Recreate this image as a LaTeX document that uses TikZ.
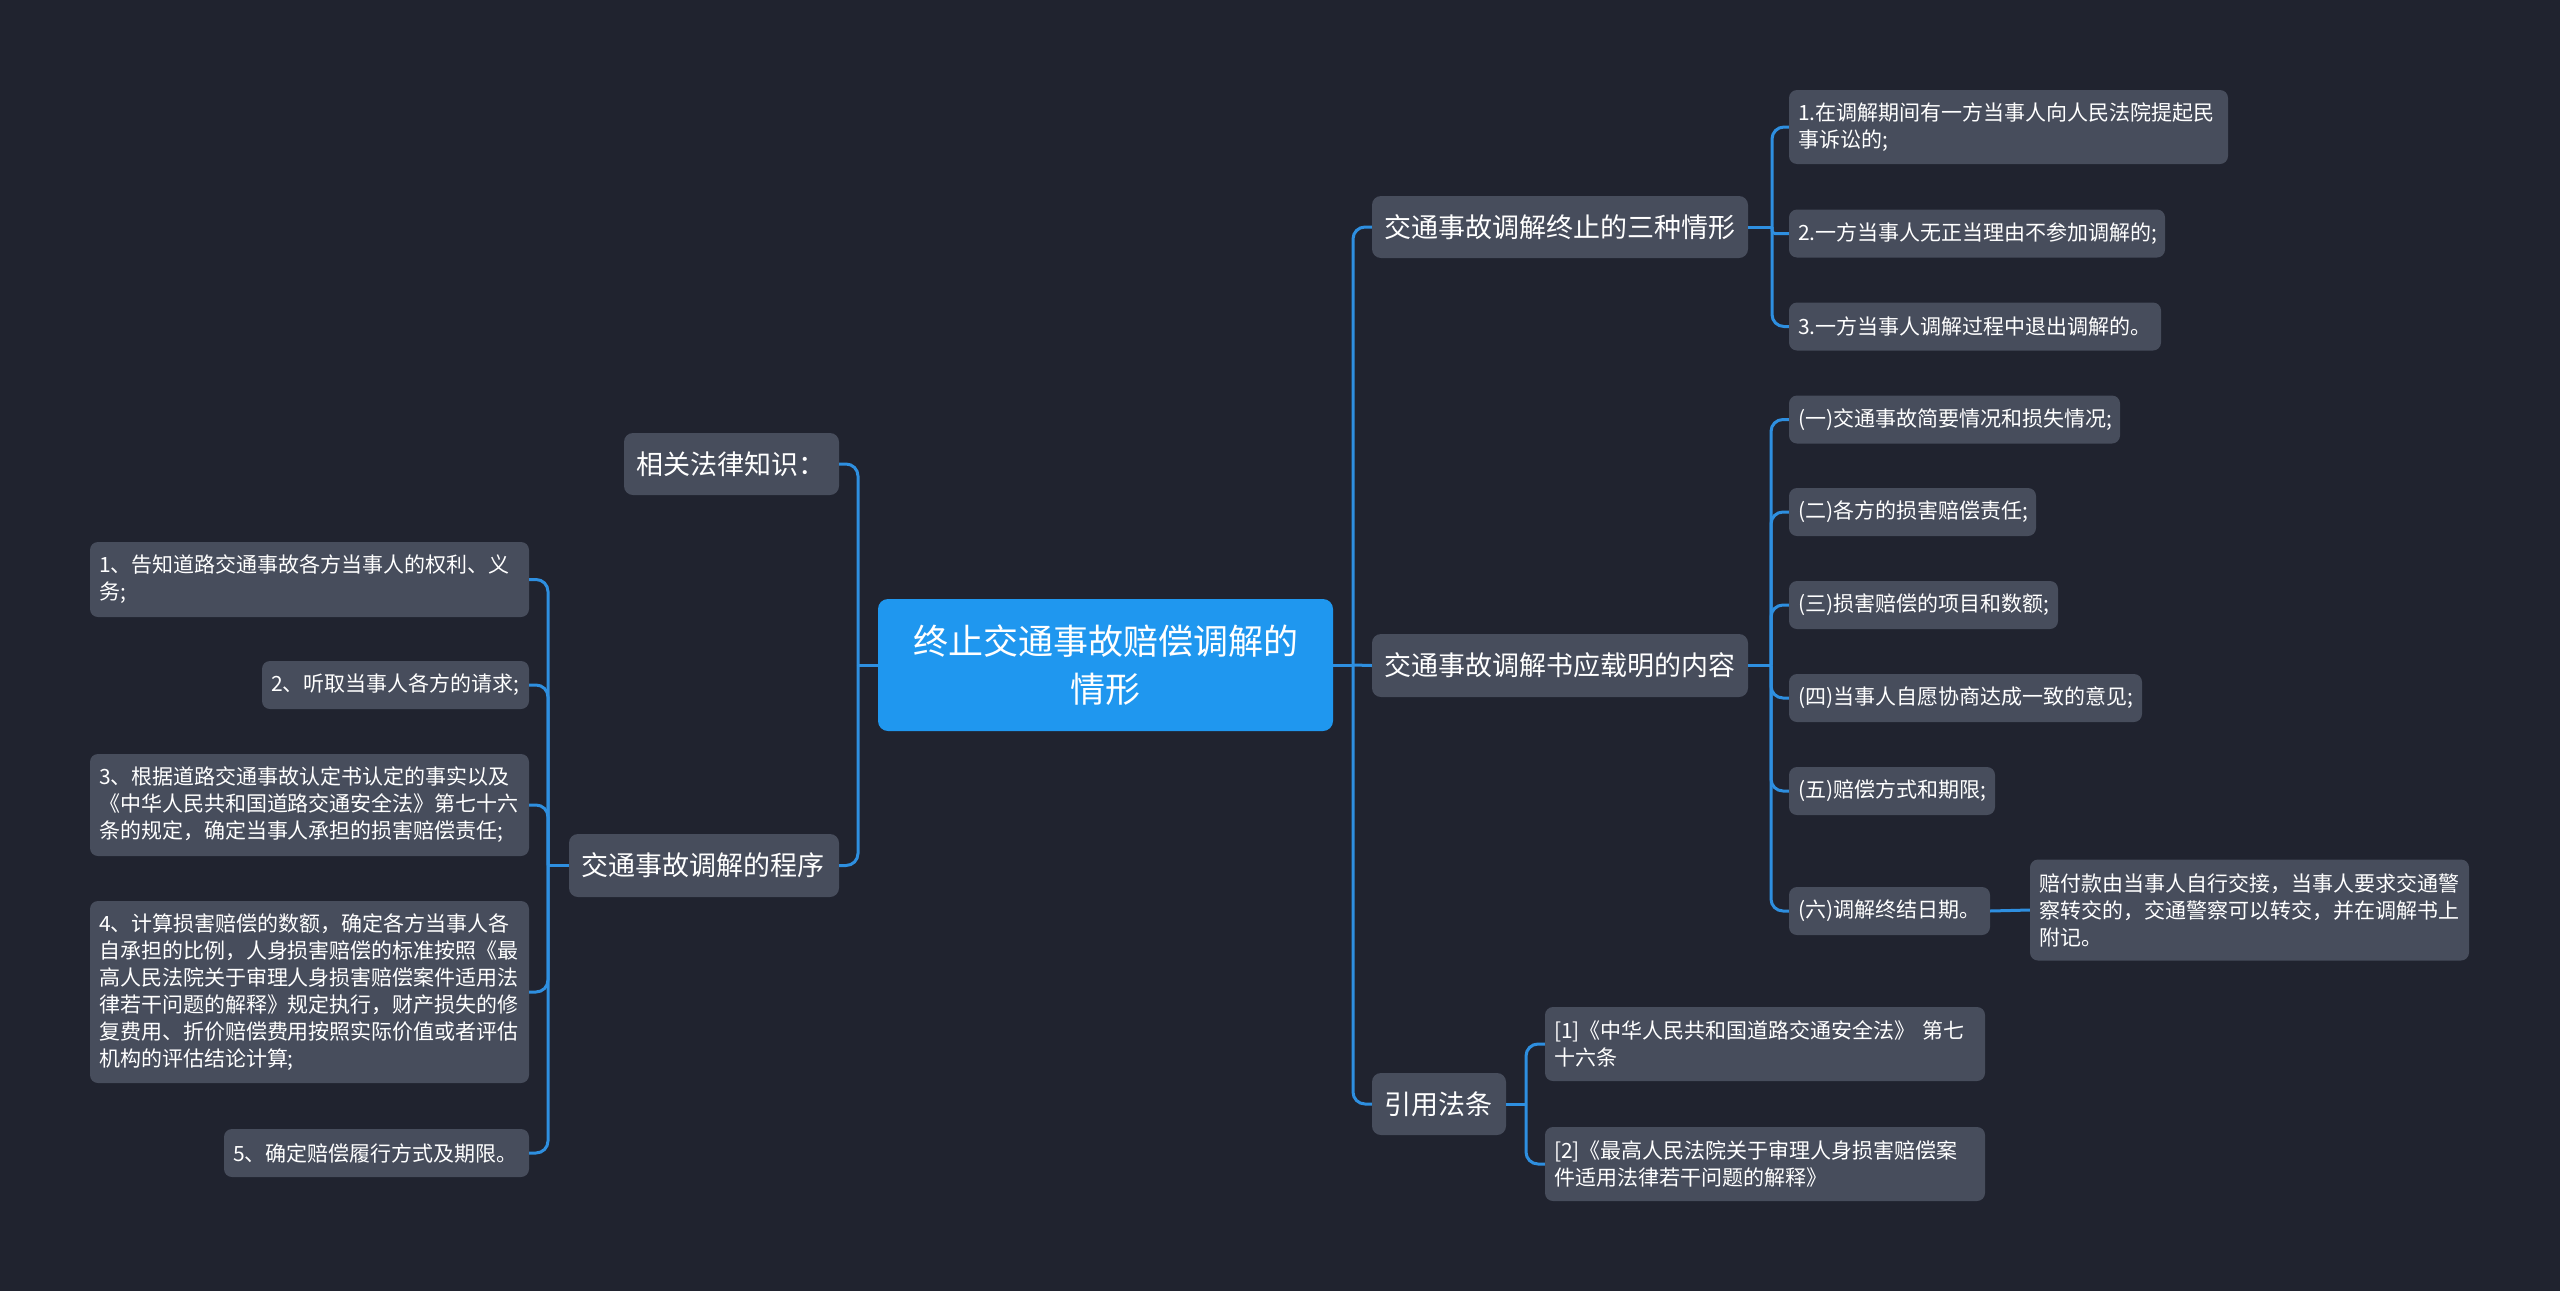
\documentclass[tikz,border=0pt]{standalone}
\usepackage{fontspec}
\setmainfont{Noto Sans CJK SC}
\definecolor{bgdark}{HTML}{20232F}
\definecolor{nodefill}{HTML}{474D5C}
\definecolor{rootblue}{HTML}{1F97EF}
\definecolor{linkblue}{HTML}{2E8FE0}
\begin{document}
\begin{tikzpicture}[x=1pt,y=-1pt,
  box/.style={rectangle, rounded corners=8pt, fill=nodefill, text=white, inner ysep=0pt},
  leaf/.style={box, font=\fontsize{21}{27}\selectfont, inner xsep=9pt, align=left},
  topic/.style={box, font=\fontsize{27}{34}\selectfont, inner xsep=12pt, align=left, rounded corners=9pt},
  root/.style={rectangle, rounded corners=10pt, fill=rootblue, text=white, font=\fontsize{35}{48}\selectfont, align=center, inner xsep=10pt, inner ysep=0pt},
  conn/.style={draw=linkblue, line width=3pt, rounded corners=12pt},
]
\fill[bgdark] (0,0) rectangle (2560,1291);
\useasboundingbox (0,0) rectangle (2560,1291);

% root
\node[root, text width=435pt, minimum height=132pt] (root) at (1105.5,665) {终止交通事故赔偿调解的\\情形};

% level 1
\node[topic, text width=191pt, minimum height=62pt] (rel) at (731.5,464) {相关法律知识：};
\node[topic, text width=246pt, minimum height=63pt] (proc) at (704,865.5) {交通事故调解的程序};
\node[topic, text width=352pt, minimum height=62pt] (stop) at (1560,227) {交通事故调解终止的三种情形};
\node[topic, text width=352pt, minimum height=63pt] (cont) at (1560,665.5) {交通事故调解书应载明的内容};
\node[topic, text width=110pt, minimum height=62pt] (cite) at (1439,1104) {引用法条};

% right leaves
\node[leaf, text width=421pt, minimum height=74pt] (a1) at (2008.5,127) {1.在调解期间有一方当事人向人民法院提起民\\事诉讼的;};
\node[leaf, text width=358pt, minimum height=48pt] (a2) at (1977,233.5) {2.一方当事人无正当理由不参加调解的;};
\node[leaf, text width=354pt, minimum height=48pt] (a3) at (1975,326.5) {3.一方当事人调解过程中退出调解的。};

\node[leaf, text width=313pt, minimum height=48pt] (b1) at (1954.5,419.5) {(一)交通事故简要情况和损失情况;};
\node[leaf, text width=229pt, minimum height=48pt] (b2) at (1912.5,512) {(二)各方的损害赔偿责任;};
\node[leaf, text width=251pt, minimum height=48pt] (b3) at (1923.5,605) {(三)损害赔偿的项目和数额;};
\node[leaf, text width=335pt, minimum height=48pt] (b4) at (1965.5,698) {(四)当事人自愿协商达成一致的意见;};
\node[leaf, text width=188pt, minimum height=48pt] (b5) at (1892,791) {(五)赔偿方式和期限;};
\node[leaf, text width=183pt, minimum height=48pt] (b6) at (1889.5,911) {(六)调解终结日期。};
\node[leaf, text width=421pt, minimum height=101pt] (b6c) at (2249.5,910) {赔付款由当事人自行交接，当事人要求交通警\\察转交的，交通警察可以转交，并在调解书上\\附记。};

\node[leaf, text width=422pt, minimum height=74pt] (c1) at (1765,1044) {[1]《中华人民共和国道路交通安全法》 第七\\十六条};
\node[leaf, text width=422pt, minimum height=74pt] (c2) at (1765,1164) {[2]《最高人民法院关于审理人身损害赔偿案\\件适用法律若干问题的解释》};

% left leaves
\node[leaf, text width=421pt, minimum height=75pt] (l1) at (309.5,579.5) {1、告知道路交通事故各方当事人的权利、义\\务;};
\node[leaf, text width=249pt, minimum height=48pt] (l2) at (395.5,685) {2、听取当事人各方的请求;};
\node[leaf, text width=421pt, minimum height=102pt] (l3) at (309.5,805) {3、根据道路交通事故认定书认定的事实以及\\《中华人民共和国道路交通安全法》第七十六\\条的规定，确定当事人承担的损害赔偿责任;};
\node[leaf, text width=421pt, minimum height=182pt] (l4) at (309.5,992) {4、计算损害赔偿的数额，确定各方当事人各\\自承担的比例，人身损害赔偿的标准按照《最\\高人民法院关于审理人身损害赔偿案件适用法\\律若干问题的解释》规定执行，财产损失的修\\复费用、折价赔偿费用按照实际价值或者评估\\机构的评估结论计算;};
\node[leaf, text width=287pt, minimum height=48pt] (l5) at (376.5,1153) {5、确定赔偿履行方式及期限。};

% junctions
\coordinate (jR) at (1353,665);
\coordinate (jL) at (858,665);
\coordinate (jS) at (1772,227);
\coordinate (jC) at (1771,665.5);
\coordinate (jQ) at (1526,1104);
\coordinate (jP) at (548,865.5);

% connectors
\draw[conn] (root.east) -- (jR);
\draw[conn] (jR) |- (stop.west);
\draw[conn] (jR) -- (cont.west);
\draw[conn] (jR) |- (cite.west);
\draw[conn] (root.west) -- (jL);
\draw[conn] (jL) |- (rel.east);
\draw[conn] (jL) |- (proc.east);

\draw[conn] (stop.east) -- (jS);
\draw[conn] (jS) |- (a1.west);
\draw[conn, rounded corners=3pt] (jS) |- (a2.west);
\draw[conn] (jS) |- (a3.west);

\draw[conn] (cont.east) -- (jC);
\foreach \n in {b1,b2,b3,b4,b5,b6} { \draw[conn] (jC) |- (\n.west); }
\draw[conn] (b6.east) -- (b6c.west);

\draw[conn] (cite.east) -- (jQ);
\draw[conn] (jQ) |- (c1.west);
\draw[conn] (jQ) |- (c2.west);

\draw[conn] (proc.west) -- (jP);
\foreach \n in {l1,l2,l3,l4,l5} { \draw[conn] (jP) |- (\n.east); }
\end{tikzpicture}
\end{document}
